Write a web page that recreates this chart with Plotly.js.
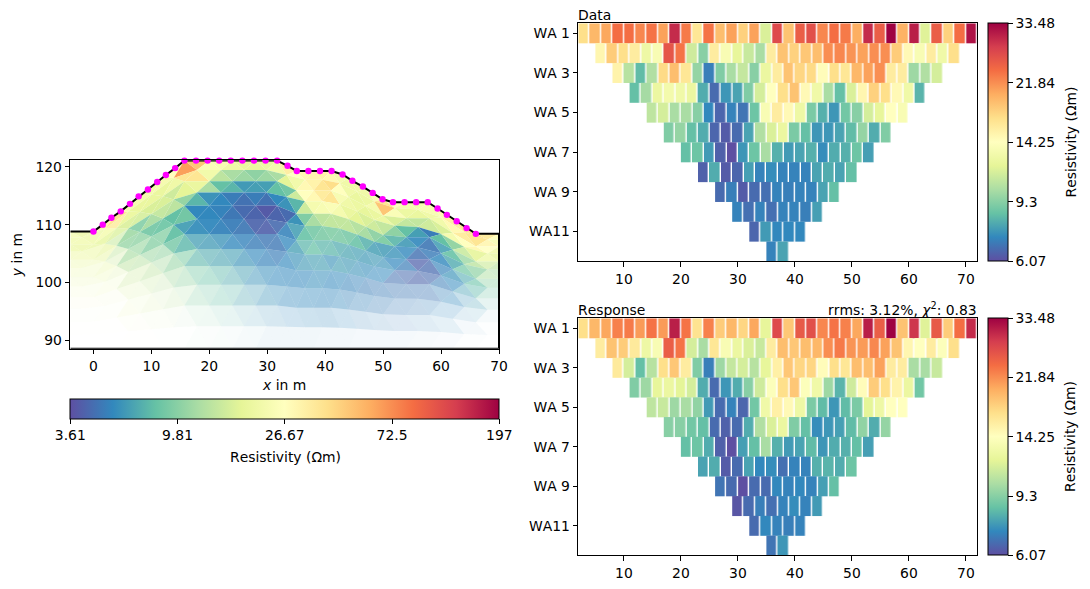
<!DOCTYPE html>
<html><head><meta charset="utf-8">
<script src="https://cdn.plot.ly/plotly-3.0.1.min.js"></script>
<style>html,body{margin:0;padding:0;background:#fff}#c{width:1090px;height:589px}svg text{font-kerning:none}</style>
</head><body><div id="c"></div>
<script>
const pseudoLabels=['WA 1','WA 3','WA 5','WA 7','WA 9','WA11'];
const pseudoTickRows=[1,3,5,7,9,11];
const rowFirstCenter=[3,6,9,12,15,18,21,24,27,30,33,36];
const dataWA=[
[16.9,19.4,20.4,23.8,23.8,22.2,23.4,20.7,29.8,23.0,16.3,23.4,19.0,20.7,17.8,20.7,11.6,26.9,18.7,25.1,26.4,22.2,23.8,23.0,20.0,29.8,25.1,33.48,19.7,30.8,11.8,25.1,17.8,23.8,31.9],
[15.0,18.1,16.9,15.8,12.7,13.6,25.9,23.4,11.2,9.3,15.8,13.6,12.2,11.0,10.1,15.8,18.7,17.8,18.4,19.0,21.84,22.2,21.5,20.7,21.84,21.84,18.1,14.7,13.6,15.8,12.9,16.9],
[15.2,10.5,8.4,10.3,17.2,19.0,16.3,9.6,7.0,9.1,10.1,10.9,9.3,12.5,15.8,18.7,17.5,17.2,14.5,16.9,16.3,19.4,20.7,21.84,15.8,15.8,9.8,10.3,11.4],
[8.5,10.0,12.5,13.1,12.9,12.5,8.0,6.6,7.5,7.8,9.1,11.4,14.25,16.9,18.7,14.7,12.9,10.1,8.5,11.6,15.0,17.8,16.9,14.7,12.9,8.2],
[10.7,11.4,10.1,10.1,9.3,7.2,6.5,7.1,6.8,8.7,13.6,15.8,14.7,12.7,9.0,8.1,7.5,8.8,9.3,11.4,12.2,14.25,13.6],
[9.1,9.6,8.5,8.0,6.5,6.3,6.6,7.8,10.3,11.6,12.5,9.0,8.5,7.5,7.5,7.8,8.4,9.6,8.0,9.1],
[8.5,8.7,7.6,6.4,6.07,7.5,8.7,10.1,8.1,7.6,7.8,8.1,7.3,8.0,8.1,8.7,7.7],
[6.4,8.0,6.3,6.5,7.7,7.1,7.3,7.1,7.1,7.1,7.8,8.0,7.8,8.5],
[6.6,7.0,6.3,6.6,6.7,7.1,7.0,7.1,7.1,7.8,8.5],
[7.1,6.7,7.1,6.7,7.1,7.1,7.0,7.7],
[6.5,7.6,7.2,7.2,7.2],
[7.1,7.8]];
const responseWA=[
[16.9,19.4,20.4,22.6,23.0,21.1,23.4,21.1,30.8,23.4,16.6,22.6,18.1,19.4,17.5,20.4,12.2,26.9,18.4,25.5,26.4,22.2,23.4,22.6,20.4,30.8,25.1,33.48,18.7,28.8,11.8,25.5,18.1,23.8,29.8],
[15.8,18.7,18.1,16.0,12.7,13.6,25.1,23.4,11.4,10.1,16.3,13.6,12.5,11.6,11.0,15.8,19.0,18.4,19.0,19.4,21.84,23.0,21.5,21.1,22.2,20.7,18.7,15.0,14.25,15.8,14.0,16.9],
[16.0,11.4,8.5,10.5,16.9,18.4,15.8,9.1,7.0,9.8,10.9,11.4,10.5,12.2,15.5,18.4,17.5,17.5,14.5,16.9,16.3,19.0,19.0,20.7,15.8,15.8,10.1,10.1,11.0],
[9.1,9.8,12.2,12.5,12.0,11.4,8.0,6.6,7.5,8.0,9.3,11.2,14.0,16.9,18.4,14.0,12.9,9.8,8.2,11.2,14.5,18.1,16.9,15.2,12.5,8.8],
[10.7,11.0,9.8,10.1,9.5,7.6,6.6,7.1,6.5,8.8,12.9,15.5,14.7,12.7,9.0,8.4,7.5,8.4,9.0,12.0,12.7,14.25,14.25],
[9.3,9.3,8.8,8.5,6.6,6.4,6.6,8.0,10.3,11.6,12.5,9.1,8.5,7.3,7.5,7.7,8.4,9.5,8.0,9.6],
[8.5,8.7,8.0,6.4,6.07,7.7,8.5,10.1,8.1,7.6,7.8,8.4,7.5,8.0,8.1,8.5,7.7],
[7.8,8.0,6.3,6.6,7.8,7.2,7.3,6.7,7.1,7.1,8.1,8.2,8.0,8.7],
[6.8,6.6,6.07,6.6,6.6,7.2,7.1,7.2,7.1,7.7,8.5],
[6.2,6.6,7.0,6.7,7.1,7.3,7.1,7.6],
[6.6,7.2,7.1,7.0,7.1],
[6.8,7.5]];
const dataTicks=[6.07,9.3,14.25,21.84,33.48];
const dataTickText=['6.07','9.3','14.25','21.84','33.48'];
const modelTicks=[3.61,9.81,26.67,72.5,197];
const modelTickText=['3.61','9.81','26.67','72.5','197'];

const electrodeX=[0,1.6,3.1,4.7,6.3,7.8,9.4,11,12.5,14.1,15.7,17.7,19.7,21.7,23.7,25.7,27.7,29.7,31.7,33.5,35.1,37.1,39.1,41.1,43,44.7,46.5,48.2,49.9,51.7,53.7,55.7,57.7,59.4,61,62.7,64.4,66];
const electrodeY=[108.8,110,111.2,112.3,113.6,114.9,116.1,117.4,118.6,119.8,121.1,121.1,121.1,121.1,121.1,121.1,121.1,121.1,121.1,120.2,119.3,119.3,119.3,119.3,118.7,117.6,116.6,115.5,114.4,113.9,113.9,113.9,113.9,112.8,111.7,110.6,109.4,108.4];
const meshLeft=-4, meshRight=70, meshBottom=88.5, meshLeftY=108.8, meshRightY=108.4;

const meshColX=[-4,0,4,8,12,15.7,20,24,28,31.7,35,38,41,44,47,50,54,58,62,66,70];
const meshSurfY=[108.8,108.8,112,115.1,118.2,121.1,121.1,121.1,121.1,121.1,119.3,119.3,119.3,118.05,116.3,114.4,113.9,113.9,111.05,108.4,108.4];
const meshLayerFrac=[0,.05,.11,.17,.24,.31,.39,.47,.56,.66,.77,.88,1];

const rhoBand01=[22.7,20.1,20.1,30,37,23.6,22.7,21.8,22.7,26.7,65,49,24.6,23.6,21,19.4,19.4,20.1,21.8,33,26.7,29,30,31,29,22.7,21,21,21,24.6,37,26.7,22.7,22.7,23.6,29,33,37,40,34,26.7];
const rhoBand02=[21,21,20.1,22.7,34,20.1,19.4,19.4,19.4,21,37,37,21.8,13.5,12,11.1,10.2,11.1,12,17.9,21.8,29,31,37,40,26.7,21,19.4,20.1,22.7,49,24.6,20.1,19.4,21,21.8,29,34,37,30,23.6];
const rhoBand03=[20.1,19.4,18.6,17.9,16.5,16.5,15.9,16.5,16.5,15.2,17.9,19.4,12,8,7.4,6.1,6.3,6.3,8,8.7,15.2,26.7,29,34,37,23.6,21,20.1,18.6,19.4,20.1,16.5,14.1,14.1,15.2,16.5,22.7,26.7,29,26.7,21];
const rhoBand04=[20.1,20.1,19.4,17.9,14.6,11.1,9.4,12,14.1,13.5,10.6,7.4,5.8,5.4,5,4.6,5,4.6,5.4,5.8,7.4,15.2,22.7,23.6,24.6,22.7,19.4,17.9,16.5,15.2,14.1,10.2,8,6.3,5,8,10.6,14.6,17.9,20.1,17.9];
const rhoBand05=[20.1,19.4,19.4,17.9,14.1,10.6,10.2,8.7,8.4,8,8.7,5.4,5.4,5.2,4.8,4.4,4.2,3.9,4.2,4.4,5.8,9.4,12,13.5,14.1,14.1,14.1,13,12,10.2,9.4,7.4,6.1,5.4,4.8,6.3,8,11.1,13.5,15.2,13.5];
const rhoBand06=[20.1,19.4,19.4,18.6,15.2,12,11.1,9.8,9.8,8,6.3,5.6,5.4,5.2,5,4.8,4.2,4.1,4.4,5.2,6.3,8,8.7,9.1,9.4,9.1,8.7,8,7.1,6.3,6.1,5.8,5.4,4.6,5,5.4,6.8,8.7,10.2,12.5,12];
const rhoBand07=[19.4,18.6,18.6,17.9,16.5,13.5,13,11.1,10.6,8.7,7.4,6.3,6.1,5.8,5.4,5.2,5,4.8,4.8,5.4,6.3,7.4,8,7.4,7.4,6.8,6.6,6.3,6.1,6.1,5.8,5.4,5,4.1,4.4,5.2,5.8,6.8,8,10.2,10.2];
const rhoBand08=[19.4,19.4,18.6,18.6,17.9,15.2,15.2,13.5,12,10.6,9.4,7.4,6.8,6.6,6.3,5.8,5.4,5.2,5,5.4,5.8,6.1,6.3,6.3,5.8,6.3,6.1,5.8,5.6,5.4,5.4,4.6,4.4,4.2,4.4,5,5.4,6.3,7.4,8.7,8.7];
const rhoBand09=[19.4,19.4,19.4,18.6,18.6,16.5,15.9,14.6,13.5,12,10.6,8.7,8,7.4,6.8,6.3,5.8,5.6,5.4,5.4,5.4,5.4,5.6,5.6,5.4,5.4,5.2,5.2,5,5,5,4.8,4.8,4.8,4.8,5.2,5.4,5.8,6.3,7.4,7.4];
const rhoBand10=[19.4,19.4,19.4,18.6,18.6,17.9,17.2,15.9,14.6,13.5,12,9.8,8.7,8,7.4,6.6,6.1,5.8,5.6,5.4,5.4,5.4,5.4,5.4,5.4,5.4,5.2,5.2,5.2,5,5,5,5,5,5.2,5.4,5.4,5.6,6.1,6.6,6.6];
const rhoBand11=[19.4,19.4,19.4,19.4,18.6,18.6,17.9,16.5,15.2,14.1,12,10.2,9.4,8,7.4,6.6,6.1,5.8,5.6,5.4,5.4,5.4,5.4,5.4,5.4,5.4,5.4,5.2,5.2,5.2,5,5,5,5.2,5.2,5.4,5.4,5.6,5.8,6.1,6.1];
const rhoBand12=[19.4,19.4,19.4,19.4,19.4,18.6,17.9,16.5,15.2,14.1,12,10.2,9.4,8,7.4,6.6,6.1,5.8,5.6,5.4,5.4,5.4,5.4,5.4,5.4,5.4,5.4,5.4,5.2,5.2,5.2,5.2,5.2,5.2,5.4,5.4,5.4,5.6,5.8,6.1,6.1];

const coverBand01=[.8,1,1,1,1,1,1,1,1,1,1,1,1,1,1,1,1,1,1,1];
const coverBand02=[.75,.85,1,1,1,1,1,1,1,1,1,1,1,1,1,1,1,1,1,.9];
const coverBand03=[.7,.75,.9,1,1,1,1,1,1,1,1,1,1,1,1,1,1,1,1,.85];
const coverBand04=[.52,.56,.88,.97,1,1,1,1,1,1,1,1,1,1,1,1,1,1,.88,.75];
const coverBand05=[.38,.45,.78,.92,1,1,1,1,1,1,1,1,1,1,.97,.9,.9,.88,.8,.65];
const coverBand06=[.28,.33,.65,.78,.95,.95,.95,.93,.9,.88,.88,.88,.85,.85,.83,.8,.82,.8,.7,.52];
const coverBand07=[.2,.24,.5,.56,.8,.76,.78,.8,.8,.76,.72,.72,.72,.7,.66,.7,.73,.67,.58,.42];
const coverBand08=[.12,.15,.33,.43,.56,.6,.62,.65,.68,.66,.64,.64,.64,.6,.55,.56,.6,.55,.43,.28];
const coverBand09=[.07,.08,.2,.28,.4,.42,.46,.5,.55,.56,.56,.56,.54,.5,.46,.43,.42,.38,.28,.15];
const coverBand10=[.03,.04,.12,.17,.22,.28,.3,.34,.4,.42,.44,.45,.42,.38,.35,.3,.28,.22,.14,.05];
const coverBand11=[.01,.01,.05,.07,.08,.12,.14,.17,.2,.22,.24,.25,.22,.2,.18,.16,.15,.12,.05,.01];
const coverBand12=[0,0,.01,.01,.01,.03,.04,.05,.07,.07,.07,.06,.06,.05,.05,.05,.04,.03,.01,0];

const spectralR=['#5e4fa2','#3288bd','#66c2a5','#abdda4','#e6f598','#ffffbf','#fee08b','#fdae61','#f46d43','#d53e4f','#9e0142'];
const colorscale=spectralR.map((c,i)=>[i/10,c]);
const FONT='"DejaVu Sans"', FS=13.9, W=1090, H=589;
const lg=v=>Math.log10(v);
const hex=c=>[1,3,5].map(i=>parseInt(c.substr(i,2),16));
function rgba(v,a){
  let t=(lg(v)-lg(3.61))/(lg(197)-lg(3.61));
  t=Math.max(0,Math.min(1,t))*10;
  const i=Math.min(9,Math.floor(t)),f=t-i,p=hex(spectralR[i]),q=hex(spectralR[i+1]);
  return 'rgba('+p.map((u,n)=>Math.round(u+(q[n]-u)*f)).join(',')+','+a+')';
}
const traces=[];
// mesh
const rhoBands=[rhoBand01,rhoBand02,rhoBand03,rhoBand04,rhoBand05,rhoBand06,rhoBand07,rhoBand08,rhoBand09,rhoBand10,rhoBand11,rhoBand12];
const coverBands=[coverBand01,coverBand02,coverBand03,coverBand04,coverBand05,coverBand06,coverBand07,coverBand08,coverBand09,coverBand10,coverBand11,coverBand12];
function meshRow(j){
  let xs=meshColX,ss=meshSurfY;
  if(j%2){
    xs=[meshColX[0]];ss=[meshSurfY[0]];
    for(let i=0;i<20;i++){xs.push((meshColX[i]+meshColX[i+1])/2);ss.push((meshSurfY[i]+meshSurfY[i+1])/2);}
    xs.push(meshColX[20]);ss.push(meshSurfY[20]);
  }
  return xs.map((x,i)=>[x,ss[i]-meshLayerFrac[j]*(ss[i]-meshBottom)]);
}
rhoBands.forEach((vals,b)=>{
  const A=meshRow(b),B=meshRow(b+1),E=b%2?B:A,O=b%2?A:B;
  vals.forEach((v,k)=>{
    const tri=k%2===0?[O[k/2],O[k/2+1],E[k/2]]:[E[(k-1)/2],E[(k+1)/2],O[(k+1)/2]];
    const a=coverBands[b][Math.max(0,Math.floor((k-1)/2))];
    if(a<=0)return;
    traces.push({type:'scatter',mode:'none',fill:'toself',fillcolor:rgba(v,a),
      x:[tri[0][0],tri[1][0],tri[2][0],tri[0][0]],y:[tri[0][1],tri[1][1],tri[2][1],tri[0][1]],
      xaxis:'x',yaxis:'y',hoverinfo:'skip',showlegend:false});
  });
});
// boundary
traces.push({type:'scatter',mode:'lines',line:{color:'#000',width:2},cliponaxis:false,
  x:[meshLeft].concat(electrodeX,[meshRight,meshRight,meshLeft]),
  y:[meshLeftY].concat(electrodeY,[meshRightY,meshBottom,meshBottom]),
  xaxis:'x',yaxis:'y',hoverinfo:'skip',showlegend:false});
// electrodes
traces.push({type:'scatter',mode:'markers',marker:{color:'#ff00ff',size:6.4},cliponaxis:false,
  x:electrodeX,y:electrodeY,xaxis:'x',yaxis:'y',hoverinfo:'skip',showlegend:false});
// model colour bar
traces.push({type:'scatter',mode:'markers',x:[-100],y:[-100],xaxis:'x',yaxis:'y',showlegend:false,hoverinfo:'skip',
  marker:{size:1,color:[lg(26.67)],cmin:lg(3.61),cmax:lg(197),colorscale:colorscale,showscale:true,
    colorbar:{orientation:'h',thickness:20,thicknessmode:'pixels',len:428.7,lenmode:'pixels',
      x:70.3/W,xanchor:'left',y:(H-399.3)/H,yanchor:'top',xpad:0,ypad:0,
      tickmode:'array',tickvals:modelTicks.map(lg),ticktext:modelTickText,ticks:'outside',ticklen:4.6,tickwidth:1,tickcolor:'#000',
      tickfont:{family:FONT,size:FS,color:'#000'},outlinecolor:'#000',outlinewidth:1,borderwidth:0}}});
// pseudosections
function pseudo(rows,xa,ya,cbTop,cbH){
  rows.forEach((vals,r)=>{
    const tr={type:'heatmap',z:[vals.map(lg)],x0:rowFirstCenter[r],dx:2,y0:r+1,dy:1,xgap:1.4,ygap:0,
      zmin:lg(6.07),zmax:lg(33.48),colorscale:colorscale,xaxis:xa,yaxis:ya,hoverinfo:'skip',showscale:r===0};
    if(r===0)tr.colorbar={thickness:20,thicknessmode:'pixels',len:cbH,lenmode:'pixels',
      x:987.6/W,xanchor:'left',y:(H-cbTop)/H,yanchor:'top',xpad:0,ypad:0,
      tickmode:'array',tickvals:dataTicks.map(lg),ticktext:dataTickText,ticks:'outside',ticklen:4.6,tickwidth:1,tickcolor:'#000',
      tickfont:{family:FONT,size:FS,color:'#000'},outlinecolor:'#000',outlinewidth:1,borderwidth:0};
    traces.push(tr);
  });
}
pseudo(dataWA,'x2','y2',23.3,238);
pseudo(responseWA,'x3','y3',318.3,237);

const base={showline:true,linecolor:'#000',linewidth:1,mirror:true,ticks:'outside',ticklen:4.6,tickwidth:1,tickcolor:'#000',
  showgrid:false,zeroline:false,tickfont:{family:FONT,size:FS,color:'#000'}};
const pxDomX=(a,b)=>[a/W,b/W], pxDomY=(t,b)=>[(H-b)/H,(H-t)/H];
const titleFont={family:FONT,size:FS,color:'#000'};
const pseudoX=(anchor)=>Object.assign({},base,{domain:pxDomX(578.3,977.3),range:[2,72],tickmode:'array',tickvals:[10,20,30,40,50,60,70],anchor:anchor});
const pseudoY=(anchor,t,b)=>Object.assign({},base,{domain:pxDomY(t,b),range:[12.5,.5],tickmode:'array',tickvals:pseudoTickRows,ticktext:pseudoLabels,anchor:anchor});
const note=(text,x,yPx,xanchor,yanchor,angle)=>({text:text,xref:'paper',yref:'paper',x:x/W,y:(H-yPx)/H,xanchor:xanchor,yanchor:yanchor,textangle:angle||0,showarrow:false,font:titleFont,borderpad:0,borderwidth:0});
const layout={width:W,height:H,paper_bgcolor:'#fff',plot_bgcolor:'#fff',showlegend:false,
  margin:{l:0,r:0,t:0,b:0,pad:0,autoexpand:false},
  xaxis:Object.assign({},base,{domain:pxDomX(70.3,499),range:[-4,70],tickmode:'array',tickvals:[0,10,20,30,40,50,60,70],anchor:'y',
    title:{text:'<i>x</i> in m',font:titleFont,standoff:7}}),
  yaxis:Object.assign({},base,{domain:pxDomY(160.3,348.7),range:[88.5,121.15],tickmode:'array',tickvals:[90,100,110,120],anchor:'x',
    title:{text:'<i>y</i> in m',font:titleFont,standoff:9}}),
  xaxis2:pseudoX('y2'),yaxis2:pseudoY('x2',23.3,261.3),
  xaxis3:pseudoX('y3'),yaxis3:pseudoY('x3',318.3,555.3),
  annotations:[
    note('Data',578.3,23,'left','bottom'),
    note('Response',578.3,318,'left','bottom'),
    note('rrms: 3.12%, <i>χ</i><sup>2</sup>: 0.83',977.3,318,'right','bottom'),
    note('Resistivity (Ωm)',285,457,'center','middle'),
    note('Resistivity (Ωm)',1070,142.5,'center','middle',-90),
    note('Resistivity (Ωm)',1070,437,'center','middle',-90)
  ]};
Plotly.newPlot('c',traces,layout,{displayModeBar:false,staticPlot:true});
</script></body></html>
